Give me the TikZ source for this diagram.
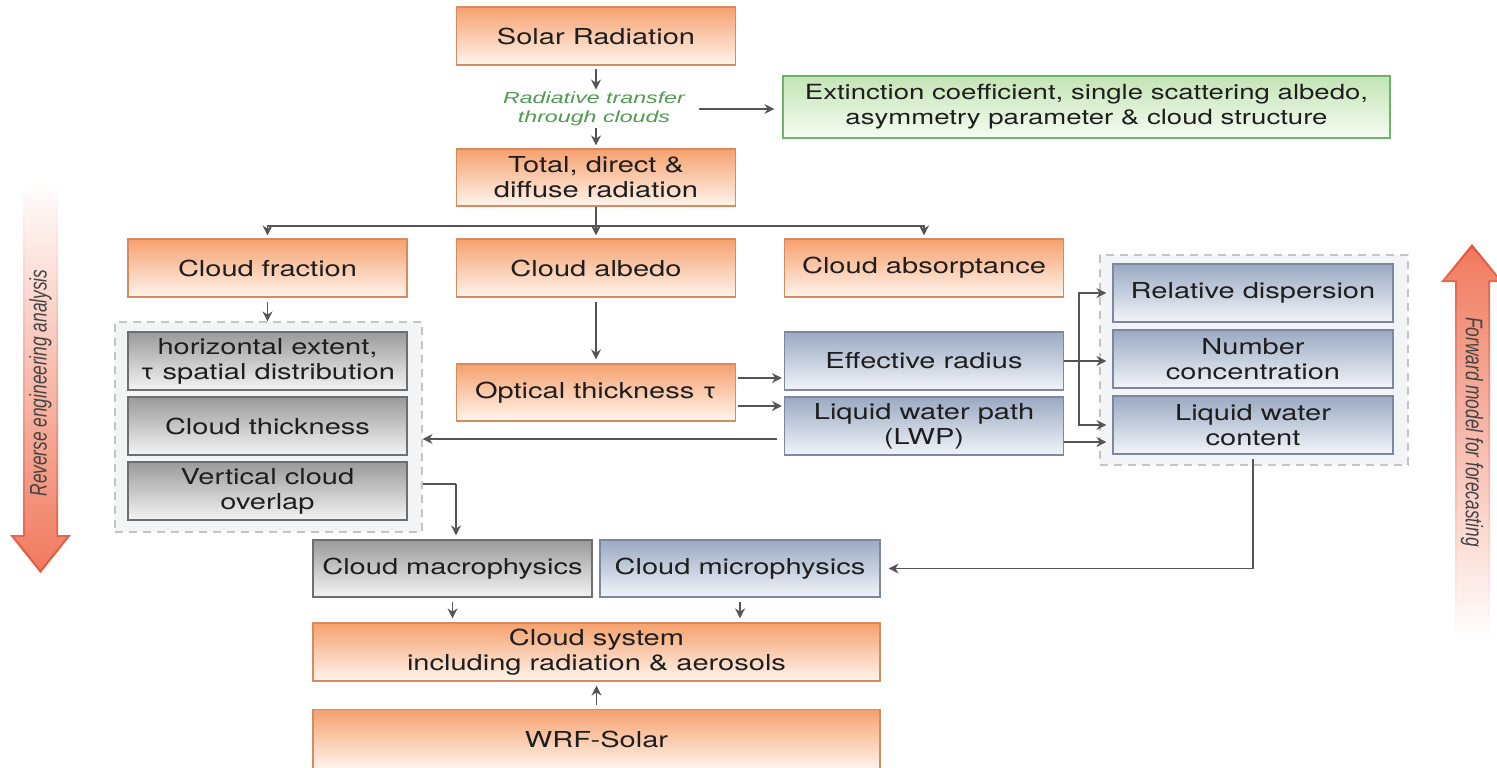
\documentclass[tikz,border=0pt]{standalone}
\usepackage{fontspec}
\setmainfont{TeX Gyre Heros}[FakeStretch=1.32]
\newfontfamily\arrowfont{Liberation Sans}
\newfontfamily\greenfont{Liberation Sans}[FakeStretch=1.45]
\usetikzlibrary{arrows.meta,positioning,calc}
\definecolor{otop}{HTML}{F5A16E}
\definecolor{obot}{HTML}{FFF5EE}
\definecolor{obrd}{HTML}{D8895E}
\definecolor{gtop}{HTML}{9A9A9A}
\definecolor{gbot}{HTML}{F4F4F4}
\definecolor{gbrd}{HTML}{6E6E6E}
\definecolor{btop}{HTML}{9AA9C2}
\definecolor{bbot}{HTML}{F2F4F9}
\definecolor{bbrd}{HTML}{7C88A2}
\definecolor{etop}{HTML}{C3E4B5}
\definecolor{ebot}{HTML}{F6FCF3}
\definecolor{ebrd}{HTML}{6BB56B}
\definecolor{arrc}{HTML}{555555}
\definecolor{txtc}{HTML}{1E1E1E}
\definecolor{grn}{HTML}{4F9A4F}
\definecolor{grpfill}{HTML}{F3F4F5}
\definecolor{grpline}{HTML}{C4C4C4}
\definecolor{bigred}{HTML}{E2553B}
\definecolor{bigfill}{HTML}{F07A5E}
\definecolor{sidetxt}{HTML}{444444}
\newcommand\mainfs{\fontsize{11}{12.4}\selectfont}
\begin{document}
\begin{tikzpicture}[x=0.5pt,y=-0.5pt,
  base/.style={draw, line width=0.6pt, minimum width=139.5pt, minimum height=29pt,
    align=center, font=\mainfs, text=txtc, inner sep=1pt},
  obox/.style={base, draw=obrd, top color=otop, bottom color=obot},
  gbox/.style={base, draw=gbrd, top color=gtop, bottom color=gbot},
  bbox/.style={base, draw=bbrd, top color=btop, bottom color=bbot},
  ebox/.style={base, draw=ebrd, top color=etop, bottom color=ebot},
  grp/.style={draw=grpline, fill=grpfill, dashed, dash pattern=on 4pt off 3pt, line width=0.6pt,
    minimum width=153.5pt, minimum height=105pt, inner sep=0pt},
  arr/.style={draw=arrc, line width=0.75pt, -{Stealth[length=5pt,width=5pt]}},
  ln/.style={draw=arrc, line width=0.75pt},
  sidelabel/.style={font=\arrowfont\itshape\fontsize{12}{14}\selectfont, text=sidetxt, inner sep=0pt}
]
\useasboundingbox (0,0) rectangle (1497,767);

% big side arrows
\shade[top color=white, bottom color=bigred]
  (23,178) -- (58,178) -- (58,535) -- (71,535) -- (40.5,573) -- (10,535) -- (23,535) -- cycle;
\shade[top color=white, bottom color=bigfill]
  (25,180) -- (56,180) -- (56,537) -- (66.5,537) -- (40.5,569.5) -- (14.5,537) -- (25,537) -- cycle;
\node[sidelabel, rotate=90] (revlabel) at (40.5,383) {\scalebox{0.72}[1]{Reverse engineering analysis}};

\shade[top color=bigred, bottom color=white]
  (1472,244) -- (1503,282) -- (1490,282) -- (1490,642) -- (1455,642) -- (1455,282) -- (1441,282) -- cycle;
\shade[top color=bigfill, bottom color=white]
  (1472,248) -- (1499,280) -- (1488,280) -- (1488,640) -- (1457,640) -- (1457,280) -- (1445,280) -- cycle;
\node[sidelabel, rotate=-90] (fwdlabel) at (1472,432) {\scalebox{0.72}[1]{Forward model for forecasting}};

% dashed groups
\node[grp] (gleft) at (268.5,427) {};
\node[grp, minimum width=154pt] (gright) at (1254,360) {};

% boxes
\node[obox] (solar) at (596,36) {Solar Radiation};
\node[font=\greenfont\itshape\fontsize{8}{9.6}\selectfont, text=grn, align=center, inner sep=1pt]
  (rad) at (594,109) {Radiative transfer\\through clouds};
\node[ebox, minimum width=303.5pt, minimum height=31pt, font=\fontsize{10.45}{12.4}\selectfont] (ext) at (1086.5,107)
  {Extinction coefficient, single scattering albedo,\\asymmetry parameter \& cloud structure};
\node[obox, minimum height=28.5pt] (total) at (596,177.5) {Total, direct \&\\diffuse radiation};
\node[obox] (frac) at (267.5,268) {Cloud fraction};
\node[obox] (albedo) at (596,268) {Cloud albedo};
\node[obox] (absorp) at (924,268) {Cloud absorptance};

\node[gbox] (horiz) at (267.5,361) {horizontal extent,\\τ spatial distribution};
\node[gbox] (thick) at (267.5,426) {Cloud thickness};
\node[gbox] (overlap) at (267.5,491) {Vertical cloud\\overlap};

\node[obox, minimum height=28.5pt] (optical) at (596,392.5) {Optical thickness τ};
\node[bbox] (effrad) at (924,361) {Effective radius};
\node[bbox] (lwp) at (924,426) {Liquid water path\\(LWP)};

\node[bbox, minimum width=140pt] (reldisp) at (1253,293) {Relative dispersion};
\node[bbox, minimum width=140pt] (numconc) at (1253,359) {Number\\concentration};
\node[bbox, minimum width=140pt] (lwc) at (1253,425) {Liquid water\\content};

\node[gbox, minimum height=28.5pt] (macro) at (452.5,568.5) {Cloud macrophysics};
\node[bbox, minimum width=140pt, minimum height=28.5pt] (micro) at (740,568.5) {Cloud microphysics};
\node[obox, minimum width=283.5pt] (system) at (596.5,652) {Cloud system\\including radiation \& aerosols};
\node[obox, minimum width=283.5pt, minimum height=30pt] (wrf) at (596.5,739.5) {WRF-Solar};

% connectors
\draw[arr, shorten <=1.5pt] (solar.south) -- (solar.south |- rad.north);
\draw[arr, shorten >=1.5pt] (rad.south -| total.north) -- (total.north);
\draw[arr, shorten <=6pt, shorten >=4pt] (rad.east) -- (rad.east -| ext.west);

\coordinate (split) at (596,226);
\draw[arr, shorten >=1.5pt] (total.south) -- (albedo.north);
\draw[arr, shorten >=1.5pt] (split) -| (frac.north);
\draw[arr, shorten >=1.5pt] (split) -| (absorp.north);

\draw[arr, shorten <=2pt] (frac.south) -- (frac.south |- gleft.north);
\draw[arr, shorten <=2pt, shorten >=2pt] (albedo.south) -- (optical.north);

\draw[arr, shorten <=1pt, shorten >=1pt] ([yshift=7.25pt]optical.east) -- ([yshift=7.25pt]optical.east -| effrad.west);
\draw[arr, shorten <=1pt, shorten >=1pt] ([yshift=-6.75pt]optical.east) -- ([yshift=-6.75pt]optical.east -| effrad.west);
\draw[arr, shorten <=3.5pt] ([yshift=-6.5pt]lwp.west) -- ([yshift=-6.5pt]lwp.west -| gleft.east);

\coordinate (vx) at (1079,361);
\draw[arr, shorten >=3pt] (effrad.east) -- (effrad.east -| numconc.west);
\draw[arr, shorten >=3pt] (vx) |- (reldisp.west);
\draw[arr, shorten >=3pt] (vx) |- (lwc.west);
\draw[arr, shorten >=3pt] ([yshift=-8pt]lwp.east) -- ([yshift=-8pt]lwp.east -| lwc.west);

\draw[arr, shorten <=2pt, shorten >=4pt] (lwc.south) |- (micro.east);

\coordinate (ovr) at (456,484);
\draw[ln] (ovr -| gleft.east) -- (ovr);
\draw[arr, shorten >=2pt] (ovr) -- (ovr |- macro.north);

\draw[arr, shorten <=2pt, shorten >=2pt] (macro.south) -- (macro.south |- system.north);
\draw[arr, shorten <=2pt, shorten >=2pt] (micro.south) -- (micro.south |- system.north);
\draw[arr, shorten <=2pt, shorten >=2pt] (wrf.north) -- (system.south);
\end{tikzpicture}
\end{document}
